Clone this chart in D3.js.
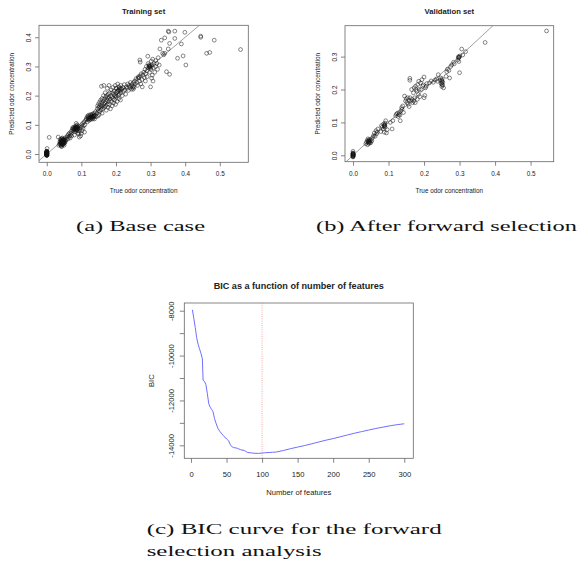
<!DOCTYPE html>
<html>
<head>
<meta charset="utf-8">
<script src="https://cdn.jsdelivr.net/npm/d3@7"></script>
<style>
    html, body { margin: 0; padding: 0; background: #fff; }
    .lbl { font-family: "Liberation Sans", Arial, sans-serif; fill: #222; }
    .cap { font-family: "Liberation Serif", "DejaVu Serif", serif; fill: #111; }
    .axis path.domain { display: none; }
    .axis line { stroke: #666; stroke-width: 0.8; }
</style>
</head>
<body>
<div id="chart"></div>
<script>
'use strict';

// ---- data ---------------------------------------------------------------

var scatterTicks = [0.0, 0.1, 0.2, 0.3, 0.4, 0.5];
var trainYTicks  = [0.0, 0.1, 0.2, 0.3, 0.4];
var validYTicks  = [0.0, 0.1, 0.2, 0.3];

// [true, predicted]
var trainPoints = [
    [0,-0.005],[0,-0.004],[0,-0.002],[0,0],[0,0.001],[0,0.002],[0,0.003],[0,0.004],[0,0.005],[0,0.006],[0,0.008],[0,0.01],
    [0,-0.0045],[0,-0.0035],[0,-0.0015],[0,-0.0005],[0,0.0005],[0,0.0015],[0,0.0025],[0,0.0035],[0,0.0045],[0,0.007],[0,0.009],
    [0.001,0.003],[0.001,-0.004],
    [0.001,-0.001],[0.001,0.007],[0.001,0.019],[0.007,0.057],[0.033,0.058],
    [0.035,0.03],[0.037,0.035],[0.038,0.042],[0.039,0.05],[0.04,0.033],[0.04,0.038],[0.041,0.045],[0.042,0.028],[0.042,0.052],
    [0.043,0.036],[0.044,0.041],[0.044,0.047],[0.045,0.031],[0.045,0.055],[0.046,0.038],[0.047,0.044],[0.047,0.05],[0.048,0.034],
    [0.048,0.04],[0.049,0.046],[0.05,0.052],[0.05,0.037],[0.051,0.043],[0.052,0.049],[0.053,0.04],[0.054,0.056],[0.055,0.046],
    [0.043,0.025],[0.05,0.03],
    [0.04,0.04],[0.041,0.036],[0.042,0.043],[0.043,0.047],[0.044,0.035],[0.045,0.043],[0.045,0.039],[0.046,0.045],[0.046,0.033],
    [0.047,0.037],[0.048,0.048],[0.049,0.041],[0.05,0.045],[0.051,0.038],[0.044,0.052],[0.041,0.03],
    [0.057,0.05],[0.059,0.058],[0.06,0.063],[0.062,0.052],[0.063,0.068],[0.065,0.06],[0.066,0.072],[0.068,0.055],[0.068,0.064],
    [0.07,0.07],[0.071,0.078],[0.072,0.062],
    [0.074,0.085],[0.075,0.09],[0.076,0.08],[0.077,0.087],[0.078,0.092],[0.079,0.083],[0.08,0.088],[0.081,0.076],[0.082,0.094],
    [0.083,0.085],[0.084,0.09],[0.085,0.079],[0.086,0.097],[0.087,0.084],[0.088,0.089],[0.089,0.093],[0.09,0.081],[0.09,0.072],
    [0.091,0.087],[0.092,0.068],[0.093,0.095],[0.094,0.058],[0.095,0.078],[0.096,0.085],[0.088,0.1],[0.085,0.105],[0.08,0.065],
    [0.08,0.082],[0.082,0.088],[0.084,0.084],[0.086,0.09],[0.088,0.085],[0.09,0.09],[0.087,0.093],[0.083,0.091],
    [0.098,0.062],[0.1,0.07],[0.1,0.092],[0.101,0.1],[0.102,0.08],[0.104,0.105],[0.105,0.088],[0.106,0.096],[0.108,0.11],
    [0.11,0.1],[0.109,0.075],[0.112,0.115],
    [0.114,0.12],[0.116,0.125],[0.117,0.11],[0.118,0.13],[0.119,0.118],[0.12,0.127],[0.121,0.133],[0.122,0.115],[0.123,0.122],
    [0.124,0.128],[0.125,0.12],[0.126,0.135],[0.127,0.118],[0.128,0.125],[0.129,0.131],[0.13,0.122],[0.131,0.128],[0.132,0.137],
    [0.133,0.12],[0.134,0.13],[0.135,0.125],[0.136,0.134],[0.137,0.14],[0.138,0.12],[0.14,0.132],[0.141,0.145],[0.143,0.128],
    [0.12,0.122],[0.124,0.124],[0.128,0.128],[0.132,0.126],[0.135,0.13],[0.13,0.134],[0.137,0.128],
    [0.145,0.14],[0.146,0.155],[0.147,0.165],[0.148,0.13],[0.149,0.148],[0.15,0.158],[0.15,0.172],[0.151,0.135],[0.152,0.162],
    [0.153,0.178],[0.154,0.145],[0.155,0.168],[0.156,0.185],[0.157,0.152],[0.158,0.16],[0.158,0.232],[0.159,0.175],[0.16,0.19],
    [0.16,0.14],[0.161,0.165],[0.162,0.155],[0.163,0.182],[0.164,0.2],[0.165,0.17],[0.165,0.235],[0.166,0.16],[0.167,0.188],
    [0.168,0.175],[0.169,0.21],[0.17,0.165],[0.17,0.195],[0.171,0.18],[0.172,0.15],[0.173,0.2],[0.174,0.185],[0.175,0.17],
    [0.175,0.225],[0.176,0.192],[0.177,0.16],[0.178,0.205],[0.179,0.18],[0.18,0.195],[0.18,0.235],[0.181,0.17],[0.182,0.21],
    [0.183,0.188],[0.184,0.155],[0.185,0.2],[0.186,0.22],[0.187,0.18],[0.188,0.195],[0.189,0.165],[0.19,0.21],[0.191,0.228],
    [0.192,0.19],[0.193,0.175],[0.194,0.205],[0.195,0.215],[0.196,0.185],[0.197,0.2],[0.198,0.235],[0.199,0.17],
    [0.2,0.21],[0.201,0.195],[0.202,0.225],[0.203,0.18],[0.204,0.215],[0.205,0.24],[0.206,0.2],[0.207,0.22],[0.208,0.19],
    [0.209,0.23],[0.21,0.205],[0.211,0.225],[0.212,0.215],[0.213,0.185],[0.214,0.235],[0.215,0.21],[0.216,0.222],[0.218,0.2],
    [0.22,0.228],[0.222,0.215],[0.224,0.238],[0.226,0.22],[0.228,0.205],[0.23,0.23],[0.232,0.225],[0.234,0.24],[0.236,0.218],
    [0.238,0.235],[0.2,0.2],[0.205,0.215],[0.21,0.22],[0.2,0.225],[0.215,0.225],
    [0.24,0.228],[0.242,0.245],[0.244,0.232],[0.245,0.222],[0.246,0.238],[0.248,0.228],[0.25,0.232],[0.25,0.222],[0.251,0.245],
    [0.252,0.228],[0.254,0.25],[0.256,0.24],[0.258,0.258],[0.26,0.245],[0.262,0.235],[0.264,0.26],[0.265,0.265],[0.266,0.262],
    [0.268,0.25],[0.27,0.268],[0.272,0.24],[0.273,0.275],[0.275,0.255],[0.276,0.23],[0.278,0.27],[0.269,0.322],[0.27,0.315],
    [0.28,0.28],[0.282,0.262],[0.284,0.29],[0.285,0.25],[0.286,0.275],[0.288,0.3],[0.29,0.285],[0.29,0.265],[0.292,0.335],
    [0.293,0.31],[0.294,0.295],[0.295,0.3],[0.296,0.305],[0.297,0.28],[0.298,0.298],[0.3,0.302],[0.3,0.23],[0.301,0.29],
    [0.302,0.318],[0.303,0.26],[0.304,0.305],[0.305,0.27],[0.306,0.325],[0.307,0.25],[0.308,0.295],[0.31,0.31],[0.312,0.28],
    [0.314,0.3],[0.315,0.32],[0.318,0.31],[0.32,0.29],[0.322,0.33],[0.325,0.305],[0.298,0.3],[0.3,0.296],[0.296,0.302],
    [0.327,0.36],[0.331,0.39],[0.335,0.345],[0.338,0.34],[0.341,0.398],[0.341,0.345],[0.346,0.282],[0.351,0.36],[0.351,0.421],
    [0.353,0.418],[0.355,0.379],[0.355,0.273],[0.37,0.421],[0.37,0.396],
    [0.378,0.328],[0.389,0.377],[0.394,0.336],[0.399,0.417],[0.402,0.305],[0.445,0.4],[0.445,0.404],[0.462,0.345],[0.471,0.348],
    [0.484,0.39],[0.56,0.358]
];

var validPoints = [
    [0,-0.005],[0,-0.003],[0,-0.001],[0,0.001],[0,0.003],[0,0.005],[0,0.007],[0.001,0.002],[0,0.012],
    [0,-0.004],[0,-0.002],[0,0],[0,0.002],[0,0.004],[0,0.006],
    [0.036,0.035],[0.038,0.04],[0.04,0.045],[0.041,0.032],[0.042,0.05],[0.043,0.038],[0.044,0.043],[0.045,0.036],[0.046,0.048],
    [0.047,0.041],[0.048,0.045],[0.05,0.038],[0.052,0.05],[0.053,0.044],[0.043,0.042],[0.045,0.045],[0.047,0.039],
    [0.056,0.055],[0.058,0.06],[0.06,0.068],[0.062,0.058],[0.065,0.075],[0.068,0.07],[0.07,0.08],[0.066,0.065],
    [0.078,0.072],[0.08,0.09],[0.082,0.085],[0.085,0.08],[0.086,0.095],[0.088,0.088],[0.089,0.092],[0.09,0.085],[0.09,0.098],
    [0.092,0.105],[0.094,0.068],[0.096,0.078],[0.088,0.07],[0.088,0.09],[0.09,0.092],
    [0.105,0.1],[0.11,0.08],[0.112,0.105],
    [0.12,0.12],[0.122,0.125],[0.125,0.128],[0.127,0.118],[0.129,0.124],[0.13,0.13],[0.132,0.122],[0.133,0.105],[0.135,0.135],
    [0.137,0.145],[0.138,0.14],[0.14,0.15],[0.142,0.13],[0.145,0.18],
    [0.148,0.165],[0.15,0.172],[0.152,0.16],[0.154,0.175],[0.155,0.155],[0.157,0.168],[0.158,0.148],[0.16,0.234],[0.16,0.228],
    [0.161,0.175],[0.163,0.165],[0.165,0.2],[0.166,0.17],[0.168,0.16],[0.17,0.19],[0.171,0.165],[0.172,0.205],[0.174,0.175],
    [0.175,0.16],[0.176,0.21],[0.178,0.2],[0.18,0.195],[0.181,0.17],[0.182,0.215],[0.184,0.185],[0.185,0.225],[0.186,0.2],
    [0.188,0.178],[0.19,0.22],[0.192,0.2],[0.194,0.23],[0.196,0.21],[0.198,0.214],[0.2,0.238],[0.2,0.175],[0.202,0.182],
    [0.204,0.205],[0.206,0.21],[0.208,0.218],
    [0.215,0.22],[0.22,0.226],[0.226,0.222],[0.231,0.229],[0.235,0.232],[0.238,0.225],[0.24,0.245],[0.245,0.229],[0.247,0.235],
    [0.248,0.218],[0.25,0.225],[0.25,0.209],[0.251,0.232],[0.252,0.213],[0.253,0.222],[0.255,0.205],
    [0.25,0.228],[0.25,0.22],[0.251,0.215],
    [0.262,0.24],[0.264,0.254],[0.266,0.262],[0.27,0.258],[0.272,0.235],[0.275,0.27],[0.278,0.275],[0.283,0.283],[0.285,0.278],
    [0.295,0.29],[0.297,0.3],[0.298,0.285],[0.299,0.298],[0.3,0.251],[0.301,0.302],[0.306,0.323],[0.309,0.305],[0.317,0.315],
    [0.298,0.298],[0.297,0.296],
    [0.372,0.343],[0.545,0.378]
];

var bicFeatures = [2, 4, 6, 8, 10, 12, 14, 16, 17, 19, 21, 23, 25, 27, 29, 31, 33, 35, 38, 41, 45, 50, 53, 55, 57, 60,
                   65, 70, 75, 78, 80, 85, 90, 95, 100, 105, 110, 115, 120, 130, 140, 150, 160, 170, 180, 190, 200,
                   210, 220, 230, 240, 250, 260, 270, 280, 290, 300];
var bicValues   = [-7960, -8350, -8750, -9200, -9500, -9700, -9900, -10150, -11100, -11150, -11300, -11700, -12150,
                   -12300, -12400, -12500, -12800, -13000, -13250, -13400, -13550, -13720, -13800, -13950, -14050,
                   -14100, -14130, -14200, -14230, -14290, -14320, -14340, -14355, -14360, -14345, -14330, -14320,
                   -14310, -14300, -14230, -14150, -14080, -14010, -13930, -13850, -13770, -13700, -13620, -13540,
                   -13460, -13390, -13320, -13250, -13190, -13130, -13080, -13040];
var bicXTicks   = [0, 50, 100, 150, 200, 250, 300];
var bicYTicks   = [-14000, -13000, -12000, -11000, -10000, -9000, -8000];
var bicYLabels  = [-14000, -12000, -10000, -8000];
var bicBest     = 100;

// ---- drawing --------------------------------------------------------------

var svg = d3.select('#chart').append('svg')
            .attr('width', 578)
            .attr('height', 563);

var clipId = 0;

function rotateYLabels(sel, offset, fontSize, shown) {
    sel.selectAll('.tick text')
       .attr('transform', 'rotate(-90)')
       .attr('x', 0)
       .attr('y', -offset)
       .attr('dy', 0)
       .attr('text-anchor', 'middle')
       .attr('class', 'lbl')
       .style('font-size', fontSize + 'px')
       .text(function (d) { return (shown && shown.indexOf(d) < 0) ? '' : sel.fmt(d); });
}

function drawPanel(o) {
    var x = d3.scaleLinear().domain(o.xDomain).range([o.left, o.right]),
        y = d3.scaleLinear().domain(o.yDomain).range([o.bottom, o.top]),
        g = svg.append('g'),
        id = 'clip' + (clipId++);

    g.append('clipPath').attr('id', id)
     .append('rect')
     .attr('x', o.left).attr('y', o.top)
     .attr('width', o.right - o.left).attr('height', o.bottom - o.top);

    // x axis
    var xa = g.append('g').attr('class', 'axis')
              .attr('transform', 'translate(0,' + o.bottom + ')')
              .call(d3.axisBottom(x).tickValues(o.xTicks).tickSize(o.tick).tickFormat(o.xFmt));
    xa.selectAll('.tick text')
      .attr('y', o.xLabOff).attr('dy', 0)
      .attr('class', 'lbl')
      .style('font-size', o.fs + 'px');

    // y axis
    var ya = g.append('g').attr('class', 'axis')
              .attr('transform', 'translate(' + o.left + ',0)')
              .call(d3.axisLeft(y).tickValues(o.yTicks).tickSize(o.tick));
    ya.fmt = o.yFmt;
    rotateYLabels(ya, o.yLabOff, o.fs, o.yShown);

    // box
    g.append('rect')
     .attr('x', o.left).attr('y', o.top)
     .attr('width', o.right - o.left).attr('height', o.bottom - o.top)
     .attr('fill', 'none').attr('stroke', '#666').attr('stroke-width', 0.8);

    // titles
    var cx = (o.left + o.right) / 2;
    g.append('text').attr('class', 'lbl')
     .attr('x', cx).attr('y', o.titleY)
     .attr('text-anchor', 'middle')
     .style('font-size', o.tfs + 'px').style('font-weight', 'bold')
     .text(o.title);
    g.append('text').attr('class', 'lbl')
     .attr('x', cx).attr('y', o.xTitleY)
     .attr('text-anchor', 'middle')
     .style('font-size', o.fs + 'px')
     .text(o.xTitle);
    g.append('text').attr('class', 'lbl')
     .attr('transform', 'translate(' + o.yTitleX + ',' + ((o.top + o.bottom) / 2) + ') rotate(-90)')
     .attr('text-anchor', 'middle')
     .style('font-size', o.fs + 'px')
     .text(o.yTitle);

    return { x: x, y: y, g: g, plot: g.append('g').attr('clip-path', 'url(#' + id + ')') };
}

function drawScatter(o, points) {
    var p = drawPanel(o);

    // identity line y = x
    p.plot.append('line')
     .attr('x1', p.x(o.xDomain[0])).attr('y1', p.y(o.xDomain[0]))
     .attr('x2', p.x(o.xDomain[1])).attr('y2', p.y(o.xDomain[1]))
     .attr('stroke', '#777').attr('stroke-width', 0.7);

    p.g.append('g').selectAll('circle')
     .data(points).enter()
     .append('circle')
     .attr('cx', function (d) { return p.x(d[0]); })
     .attr('cy', function (d) { return p.y(d[1]); })
     .attr('r', 1.9)
     .attr('fill', 'none')
     .attr('stroke', '#111')
     .attr('stroke-width', 0.5);
}

var fmt1 = d3.format('.1f');

drawScatter({
    left: 39, right: 248.3, top: 25.3, bottom: 162.3,
    xDomain: [-0.0224, 0.5824], yDomain: [-0.0284, 0.441],
    xTicks: scatterTicks, yTicks: trainYTicks, xFmt: fmt1, yFmt: fmt1,
    tick: 4, xLabOff: 14, yLabOff: 7.7, fs: 6.4, tfs: 7.7,
    title: 'Training set', titleY: 13.5,
    xTitle: 'True odor concentration', xTitleY: 192.5,
    yTitle: 'Predicted odor concentration', yTitleX: 14.3
}, trainPoints);

drawScatter({
    left: 345, right: 553.7, top: 25.7, bottom: 161.7,
    xDomain: [-0.0226, 0.5651], yDomain: [-0.0195, 0.394],
    xTicks: scatterTicks, yTicks: validYTicks, xFmt: fmt1, yFmt: fmt1,
    tick: 4, xLabOff: 14, yLabOff: 8, fs: 6.4, tfs: 7.7,
    title: 'Validation set', titleY: 13.5,
    xTitle: 'True odor concentration', xTitleY: 192.5,
    yTitle: 'Predicted odor concentration', yTitleX: 320.3
}, validPoints);

// BIC curve
(function () {
    var o = {
        left: 184.3, right: 413.3, top: 303, bottom: 458.3,
        xDomain: [-9.42, 312.7], yDomain: [-14579, -7657],
        xTicks: bicXTicks, yTicks: bicYTicks, yShown: bicYLabels,
        xFmt: d3.format('d'), yFmt: d3.format('d'),
        tick: 4.5, xLabOff: 18.4, yLabOff: 9.9, fs: 7.6, tfs: 9.1,
        title: 'BIC as a function of number of features', titleY: 289,
        xTitle: 'Number of features', xTitleY: 494.5,
        yTitle: 'BIC', yTitleX: 154.4
    };
    var p = drawPanel(o);
    p.g.selectAll('.tick text').text(function () { return d3.select(this).text().replace('−', '-'); });

    p.plot.append('line')
     .attr('x1', p.x(bicBest)).attr('x2', p.x(bicBest))
     .attr('y1', o.top).attr('y2', o.bottom)
     .attr('stroke', '#f08a8a').attr('stroke-width', 0.7)
     .attr('stroke-dasharray', '1,1.2');

    var line = d3.line()
                 .x(function (d, i) { return p.x(bicFeatures[i]); })
                 .y(function (d) { return p.y(d); });

    p.plot.append('path')
     .datum(bicValues)
     .attr('d', line)
     .attr('fill', 'none')
     .attr('stroke', '#6f6fff')
     .attr('stroke-width', 1);
})();

// captions
var captions = [
    { x: 76, y: 230.5, w: 129, t: '(a) Base case' },
    { x: 316, y: 230.5, w: 261, t: '(b) After forward selection' },
    { x: 146.7, y: 534, w: 295, t: '(c) BIC curve for the forward' },
    { x: 146.7, y: 555.5, w: 175, t: 'selection analysis' }
];

svg.selectAll('text.cap')
   .data(captions).enter()
   .append('text')
   .attr('class', 'cap')
   .attr('x', function (d) { return d.x; })
   .attr('y', function (d) { return d.y; })
   .attr('textLength', function (d) { return d.w; })
   .attr('lengthAdjust', 'spacingAndGlyphs')
   .style('font-size', '15.5px')
   .text(function (d) { return d.t; });
</script>
</body>
</html>
